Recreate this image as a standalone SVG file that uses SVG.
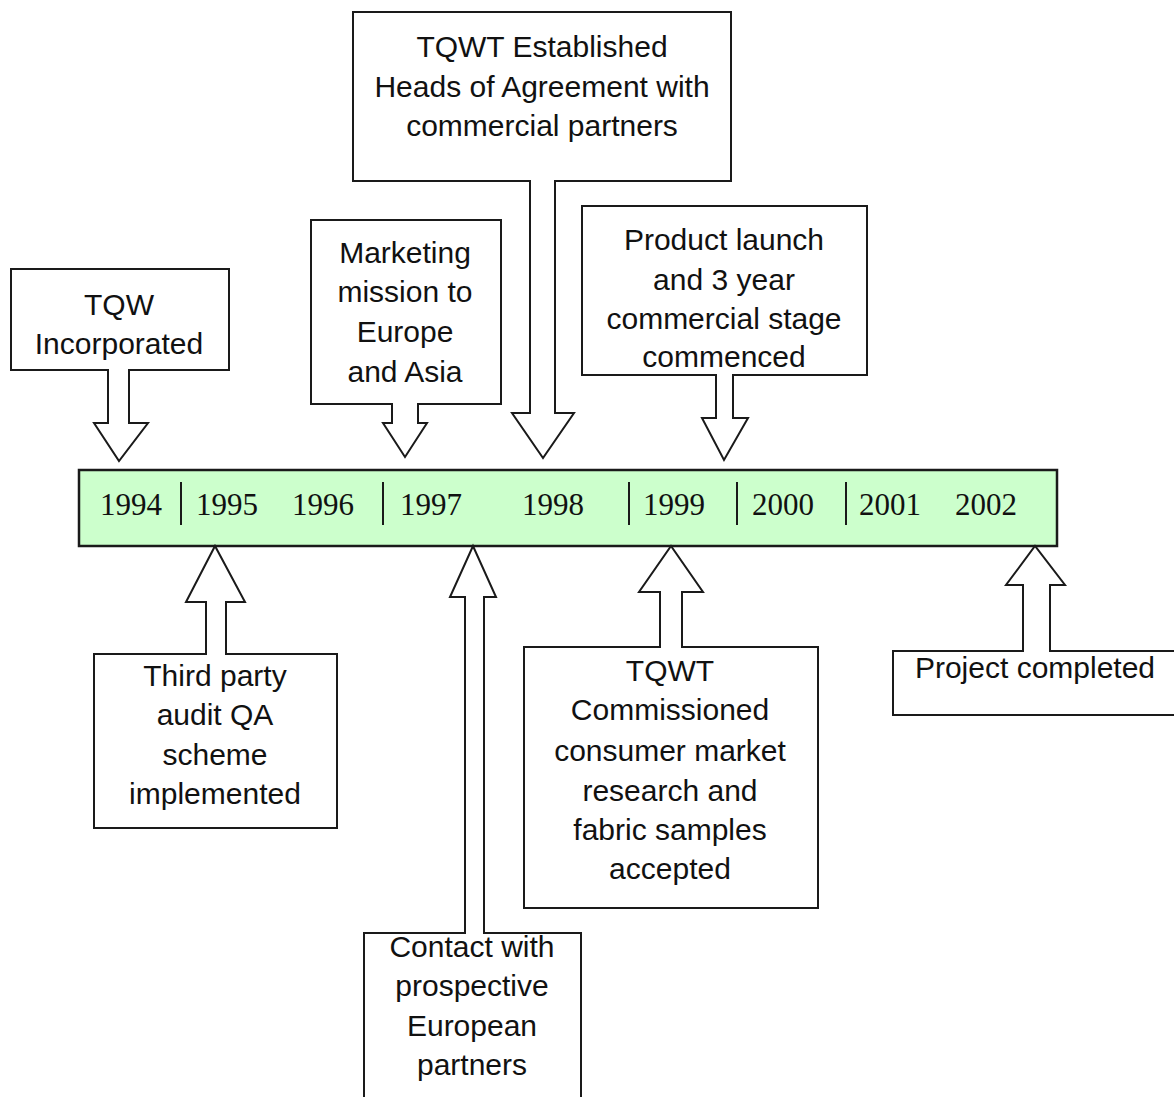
<svg xmlns="http://www.w3.org/2000/svg" width="1174" height="1097" viewBox="0 0 1174 1097">
<style>
.box{fill:#fff;stroke:#1a1a1a;stroke-width:2}
.arr{fill:#fff;stroke:#1a1a1a;stroke-width:2;stroke-linejoin:miter}
.t{font-family:"Liberation Sans",Arial,sans-serif;font-size:30px;fill:#111;text-anchor:middle}
.yr{font-family:"Liberation Serif","Times New Roman",serif;font-size:31px;fill:#111}
.bar{fill:#ccffcc;stroke:#1a1a1a;stroke-width:2.5}
.div{stroke:#1a1a1a;stroke-width:2}
</style>
<rect width="1174" height="1097" fill="#fff"/>

<g id="timeline">
<rect class="bar" x="79" y="470" width="978" height="76"/>
<line class="div" x1="181" y1="482" x2="181" y2="525"/>
<line class="div" x1="383" y1="482" x2="383" y2="525"/>
<line class="div" x1="629" y1="482" x2="629" y2="525"/>
<line class="div" x1="737" y1="482" x2="737" y2="525"/>
<line class="div" x1="846" y1="482" x2="846" y2="525"/>
<text class="yr" x="100" y="515">1994</text>
<text class="yr" x="196" y="515">1995</text>
<text class="yr" x="292" y="515">1996</text>
<text class="yr" x="400" y="515">1997</text>
<text class="yr" x="522" y="515">1998</text>
<text class="yr" x="643" y="515">1999</text>
<text class="yr" x="752" y="515">2000</text>
<text class="yr" x="859" y="515">2001</text>
<text class="yr" x="955" y="515">2002</text>
</g>

<g id="n-tqw">
<rect class="box" x="11" y="269" width="218" height="101"/>
<text class="t" x="119" y="315">TQW</text>
<text class="t" x="119" y="354">Incorporated</text>
</g>

<g id="n-marketing">
<rect class="box" x="311" y="220" width="190" height="184"/>
<text class="t" x="405" y="263">Marketing</text>
<text class="t" x="405" y="302">mission to</text>
<text class="t" x="405" y="342">Europe</text>
<text class="t" x="405" y="382">and Asia</text>
</g>

<g id="n-established">
<rect class="box" x="353" y="12" width="378" height="169"/>
<text class="t" x="542" y="57">TQWT Established</text>
<text class="t" x="542" y="97">Heads of Agreement with</text>
<text class="t" x="542" y="136">commercial partners</text>
</g>

<g id="n-launch">
<rect class="box" x="582" y="206" width="285" height="169"/>
<text class="t" x="724" y="250">Product launch</text>
<text class="t" x="724" y="290">and 3 year</text>
<text class="t" x="724" y="329">commercial stage</text>
<text class="t" x="724" y="367">commenced</text>
</g>

<g id="n-thirdparty">
<rect class="box" x="94" y="654" width="243" height="174"/>
<text class="t" x="215" y="686">Third party</text>
<text class="t" x="215" y="725">audit QA</text>
<text class="t" x="215" y="765">scheme</text>
<text class="t" x="215" y="804">implemented</text>
</g>

<g id="n-contact">
<rect class="box" x="364" y="933" width="217" height="180"/>
<text class="t" x="472" y="957">Contact with</text>
<text class="t" x="472" y="996">prospective</text>
<text class="t" x="472" y="1036">European</text>
<text class="t" x="472" y="1075">partners</text>
</g>

<g id="n-commissioned">
<rect class="box" x="524" y="647" width="294" height="261"/>
<text class="t" x="670" y="681">TQWT</text>
<text class="t" x="670" y="720">Commissioned</text>
<text class="t" x="670" y="761">consumer market</text>
<text class="t" x="670" y="801">research and</text>
<text class="t" x="670" y="840">fabric samples</text>
<text class="t" x="670" y="879">accepted</text>
</g>

<g id="n-completed">
<rect class="box" x="893" y="651" width="290" height="64"/>
<text class="t" x="1035" y="678">Project completed</text>
</g>

<g id="connectors">
<path class="arr" d="M108,369 V423 H94 L119,461 L148,423 H129 V369"/>
<path class="arr" d="M392,403 V423 H383 L405,457 L427,423 H418 V403"/>
<path class="arr" d="M530,180 V413 H512 L543,458 L574,413 H555 V180"/>
<path class="arr" d="M716,374 V418 H702 L724,460 L748,418 H733 V374"/>
<path class="arr" d="M206,655 V602 H186 L215,546 L245,602 H226 V655"/>
<path class="arr" d="M465,934 V597 H450 L473,546 L496,597 H484 V934"/>
<path class="arr" d="M660,648 V592 H639 L671,546 L703,592 H682 V648"/>
<path class="arr" d="M1023,652 V585 H1006 L1035,546 L1065,585 H1050 V652"/>
</g>
</svg>
